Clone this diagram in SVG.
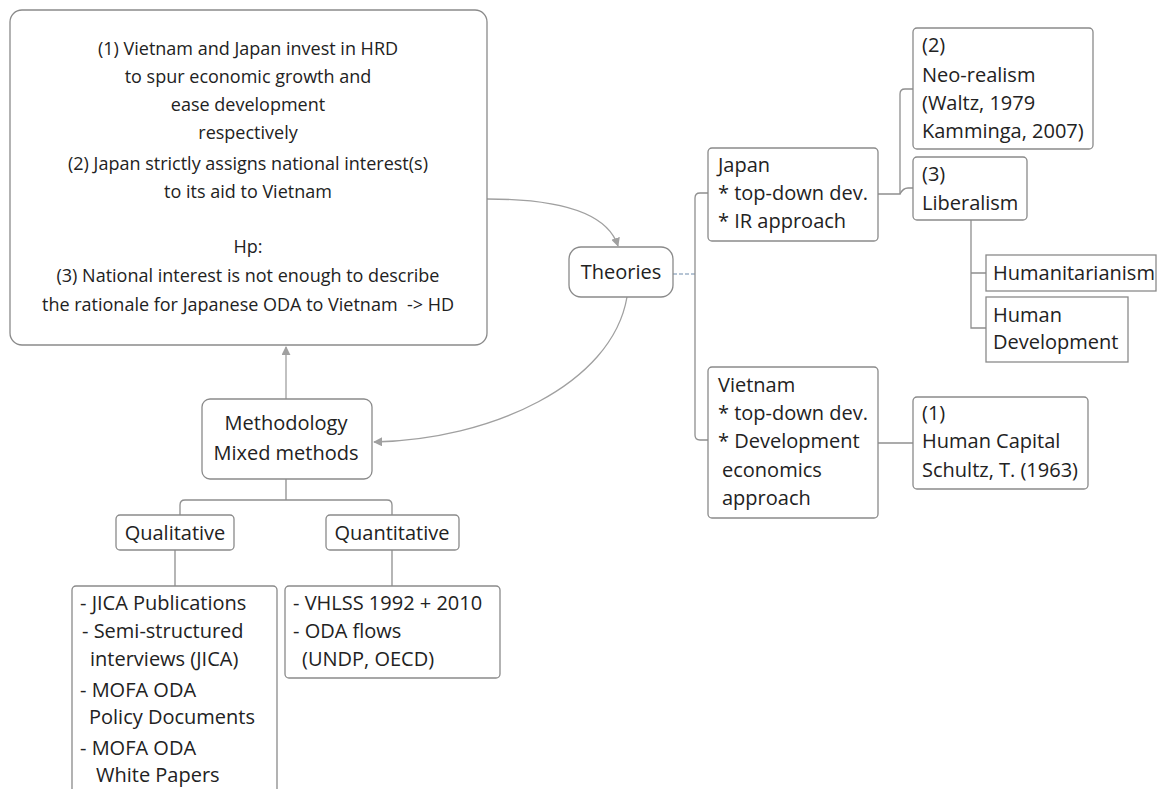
<svg xmlns="http://www.w3.org/2000/svg" width="1168" height="789" viewBox="0 0 1168 789">
<style>
text{font-family:"Open Sans","Noto Sans","DejaVu Sans",sans-serif;font-size:20px;fill:#222}
.m{font-size:18px}
.c{text-anchor:middle}
.box{fill:#fff;stroke:#8a8a8a;stroke-width:1.3}
.ln{fill:none;stroke:#8f8f8f;stroke-width:1.3}
.ar{fill:none;stroke:#a0a0a0;stroke-width:1.3}
</style>
<defs>
<marker id="ah" viewBox="0 0 10 10" refX="9" refY="5" markerWidth="9" markerHeight="9" orient="auto" markerUnits="userSpaceOnUse">
<path d="M0,0 L10,5 L0,10 z" fill="#a0a0a0"/>
</marker>
</defs>
<rect width="1168" height="789" fill="#fff"/>
<g id="connectors">
<path class="ar" d="M487,199 Q603,199 618,246" marker-end="url(#ah)"/>
<path class="ar" d="M627,297 C612,385 490,440 374,442" marker-end="url(#ah)"/>
<path class="ar" d="M286,399 L286,347" marker-end="url(#ah)"/>
<path d="M673,274 L697,274" fill="none" stroke="#9fb3c8" stroke-width="1.3" stroke-dasharray="4,2"/>
<path class="ln" d="M708,193 L700,193 Q695,193 695,198 L695,435 Q695,440 700,440 L708,440"/>
<path class="ln" d="M878,194 L900,194 L900,94 Q900,89 905,89 L913,89"/>
<path class="ln" d="M900,194 Q903,188 908,188 L913,188"/>
<path class="ln" d="M971,220 L971,328 L986,328 M971,273 L986,273"/>
<path class="ln" d="M878,443 L913,443"/>
<path class="ln" d="M286,479 L286,500 M180,515 L180,505 Q180,500 185,500 L387,500 Q392,500 392,505 L392,515"/>
<path class="ln" d="M175,550 L175,586 M392,550 L392,586"/>
</g>
<g id="main">
<rect class="box" x="10" y="10" width="477" height="335" rx="12"/>
<text class="c m" x="248" y="55">(1) Vietnam and Japan invest in HRD</text>
<text class="c m" x="248" y="83">to spur economic growth and</text>
<text class="c m" x="248" y="111">ease development</text>
<text class="c m" x="248" y="139">respectively</text>
<text class="c m" x="248" y="170">(2) Japan strictly assigns national interest(s)</text>
<text class="c m" x="248" y="198">to its aid to Vietnam</text>
<text class="c m" x="248" y="253">Hp:</text>
<text class="c m" x="248" y="282">(3) National interest is not enough to describe</text>
<text class="c m" x="248" y="311" xml:space="preserve">the rationale for Japanese ODA to Vietnam  -&gt; HD</text>
</g>
<g id="theories">
<rect class="box" x="569" y="247" width="104" height="50" rx="12"/>
<text class="c" x="621" y="279">Theories</text>
</g>
<g id="japan">
<rect class="box" x="708" y="148" width="170" height="93" rx="4"/>
<text x="718" y="172">Japan</text>
<text x="718" y="200">* top-down dev.</text>
<text x="718" y="228">* IR approach</text>
</g>
<g id="neorealism">
<rect class="box" x="913" y="28" width="180" height="121" rx="4"/>
<text x="922" y="52">(2)</text>
<text x="922" y="82">Neo-realism</text>
<text x="922" y="110">(Waltz, 1979</text>
<text x="922" y="138">Kamminga, 2007)</text>
</g>
<g id="liberalism">
<rect class="box" x="913" y="157" width="114" height="63" rx="4"/>
<text x="922" y="181">(3)</text>
<text x="922" y="210">Liberalism</text>
</g>
<g id="humanitarianism">
<rect class="box" x="986" y="255" width="170" height="36"/>
<text x="993" y="280">Humanitarianism</text>
</g>
<g id="humandev">
<rect class="box" x="986" y="297" width="142" height="65"/>
<text x="993" y="322">Human</text>
<text x="993" y="349">Development</text>
</g>
<g id="vietnam">
<rect class="box" x="708" y="367" width="170" height="151" rx="4"/>
<text x="718" y="392">Vietnam</text>
<text x="718" y="420">* top-down dev.</text>
<text x="718" y="448">* Development</text>
<text x="722" y="477">economics</text>
<text x="722" y="505">approach</text>
</g>
<g id="humancapital">
<rect class="box" x="913" y="397" width="175" height="92" rx="4"/>
<text x="922" y="420">(1)</text>
<text x="922" y="448">Human Capital</text>
<text x="922" y="477">Schultz, T. (1963)</text>
</g>
<g id="methodology">
<rect class="box" x="202" y="399" width="170" height="80" rx="8"/>
<text class="c" x="286" y="430">Methodology</text>
<text class="c" x="286" y="460">Mixed methods</text>
</g>
<g id="qualitative">
<rect class="box" x="116" y="515" width="118" height="35" rx="4"/>
<text class="c" x="175" y="540">Qualitative</text>
</g>
<g id="quantitative">
<rect class="box" x="326" y="515" width="133" height="35" rx="4"/>
<text class="c" x="392" y="540">Quantitative</text>
</g>
<g id="quallist">
<rect class="box" x="72" y="586" width="205" height="230" rx="4"/>
<text x="80" y="610">- JICA Publications</text>
<text x="82" y="638">- Semi-structured</text>
<text x="90" y="666">interviews (JICA)</text>
<text x="80" y="697">- MOFA ODA</text>
<text x="89" y="724">Policy Documents</text>
<text x="80" y="755">- MOFA ODA</text>
<text x="96" y="782">White Papers</text>
</g>
<g id="quantlist">
<rect class="box" x="285" y="586" width="215" height="92" rx="4"/>
<text x="293" y="610">- VHLSS 1992 + 2010</text>
<text x="293" y="638">- ODA flows</text>
<text x="302" y="666">(UNDP, OECD)</text>
</g>
</svg>
